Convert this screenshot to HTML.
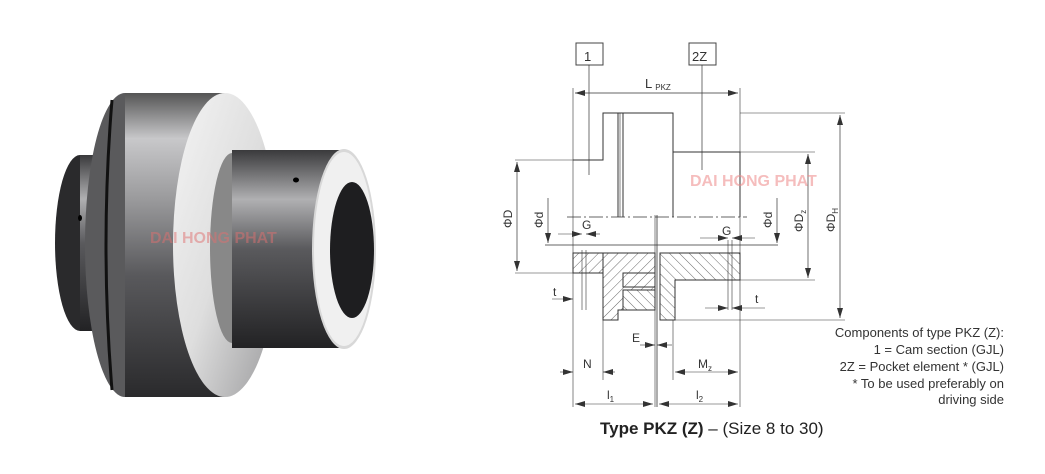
<!DOCTYPE html>
<html><head><meta charset="utf-8"><style>
body{margin:0;background:#fff;width:1045px;height:474px;overflow:hidden}
svg{position:absolute;left:0;top:0}
.t{font-family:"Liberation Sans",sans-serif;fill:#333}
</style></head><body>
<svg width="1045" height="474" viewBox="0 0 1045 474">
<defs>
<linearGradient id="gb" x1="0" y1="0" x2="0" y2="1">
<stop offset="0" stop-color="#555"/><stop offset="0.15" stop-color="#c8c8ca"/><stop offset="0.35" stop-color="#9a9a9c"/><stop offset="0.6" stop-color="#59595c"/><stop offset="1" stop-color="#2a2a2c"/></linearGradient>
<linearGradient id="gh" x1="0" y1="0" x2="0" y2="1">
<stop offset="0" stop-color="#3a3a3c"/><stop offset="0.25" stop-color="#b0b0b2"/><stop offset="0.5" stop-color="#5a5a5d"/><stop offset="1" stop-color="#222224"/></linearGradient>
<linearGradient id="gf" x1="0" y1="0" x2="1" y2="1">
<stop offset="0" stop-color="#f4f4f4"/><stop offset="0.5" stop-color="#dedede"/><stop offset="1" stop-color="#9a9a9c"/></linearGradient>
<pattern id="hat" width="7" height="7" patternUnits="userSpaceOnUse" patternTransform="rotate(45)"><line x1="0" y1="0" x2="0" y2="7" stroke="#444" stroke-width="0.8"/></pattern>
<pattern id="hat2" width="7" height="7" patternUnits="userSpaceOnUse" patternTransform="rotate(-45)"><line x1="0" y1="0" x2="0" y2="7" stroke="#444" stroke-width="0.8"/></pattern>
<marker id="a" viewBox="0 0 10 6" refX="10" refY="3" markerWidth="10" markerHeight="6" orient="auto-start-reverse" markerUnits="userSpaceOnUse"><path d="M0,0L10,3L0,6z" fill="#333"/></marker>
</defs>
<g>
<ellipse cx="80" cy="243" rx="25" ry="88" fill="#2a2a2c"/>
<rect x="80" y="155" width="30" height="176" fill="url(#gh)"/>
<ellipse cx="125" cy="245" rx="40" ry="152" fill="#5a5a5c"/>
<rect x="125" y="93" width="100" height="304" fill="url(#gb)"/>
<path d="M112,100 Q100,245 112,390" stroke="#111" stroke-width="3" fill="none"/>
<ellipse cx="225" cy="245" rx="52" ry="152" fill="url(#gf)"/>
<ellipse cx="232" cy="248" rx="22" ry="95" fill="#888"/>
<rect x="232" y="150" width="112" height="198" fill="url(#gh)"/>
<ellipse cx="344" cy="249" rx="32" ry="100" fill="#d8d8d8"/>
<ellipse cx="344" cy="249" rx="30" ry="97" fill="#f0f0f0"/>
<ellipse cx="352" cy="250" rx="22" ry="68" fill="#1e1e20"/>
<ellipse cx="296" cy="180" rx="3" ry="2.5" fill="#000"/>
<ellipse cx="80" cy="218" rx="2" ry="3" fill="#000"/>
</g>
<text x="150" y="243" class="t" style="fill:#e07070;opacity:.5;font-weight:bold;font-size:16px">DAI HONG PHAT</text>
<g stroke="#333" stroke-width="1" fill="none">
<rect x="576" y="43" width="27" height="22" stroke="#444"/>
<rect x="689" y="43" width="27" height="22" stroke="#444"/>
<line x1="589" y1="65" x2="589" y2="175" stroke-width="0.7"/>
<line x1="702" y1="65" x2="702" y2="170" stroke-width="0.7"/>
<line x1="573" y1="88" x2="573" y2="407" stroke-width="0.6"/>
<line x1="740" y1="88" x2="740" y2="407" stroke-width="0.6"/>
<line x1="575" y1="93" x2="738" y2="93" stroke-width="0.7" marker-start="url(#a)" marker-end="url(#a)"/>
<path d="M573,160 H603 V113 H618 V217 M623,217 V113 H673 V152 H740 V217 M673,113 V217"/>
<line x1="618" y1="113" x2="623" y2="113"/>
<line x1="620" y1="113" x2="620" y2="217" stroke-width="0.6"/>
<line x1="567" y1="217" x2="747" y2="217" stroke-dasharray="14,3,2,3" stroke-width="0.7"/>
<line x1="545" y1="245" x2="778" y2="245" stroke-width="0.7"/>
<rect x="573" y="253" width="30" height="20" fill="url(#hat)"/>
<path d="M603,253 H655 V273 H623 V287 H655 V290 H623 V310 H618 V320 H603 Z" fill="url(#hat)"/>
<rect x="623" y="273" width="32" height="14" fill="url(#hat)"/>
<rect x="623" y="290" width="32" height="20" fill="url(#hat2)"/>
<path d="M660,253 H740 V280 H675 V320 H660 Z" fill="url(#hat2)"/>
<line x1="657" y1="215" x2="657" y2="407" stroke-width="0.8"/>
<line x1="655" y1="215" x2="655" y2="407" stroke-width="0.6"/>
<line x1="573" y1="273" x2="603" y2="273"/>
<line x1="582" y1="250" x2="582" y2="310" stroke-width="0.6"/>
<line x1="586" y1="250" x2="586" y2="310" stroke-width="0.6"/>
<line x1="728" y1="240" x2="728" y2="310" stroke-width="0.6"/>
<line x1="732" y1="240" x2="732" y2="310" stroke-width="0.6"/>
<line x1="515" y1="160" x2="573" y2="160" stroke-width="0.6"/>
<line x1="515" y1="273" x2="573" y2="273" stroke-width="0.6"/>
<line x1="740" y1="113" x2="845" y2="113" stroke-width="0.6"/>
<line x1="740" y1="152" x2="815" y2="152" stroke-width="0.6"/>
<line x1="740" y1="280" x2="815" y2="280" stroke-width="0.6"/>
<line x1="675" y1="320" x2="845" y2="320" stroke-width="0.6"/>
<line x1="603" y1="320" x2="603" y2="380" stroke-width="0.6"/>
<line x1="673" y1="320" x2="673" y2="380" stroke-width="0.6"/>
<line x1="517" y1="162" x2="517" y2="271" stroke-width="0.7" marker-start="url(#a)" marker-end="url(#a)"/>
<line x1="548" y1="198" x2="548" y2="243" stroke-width="0.7" marker-end="url(#a)"/>
<line x1="777" y1="198" x2="777" y2="243" stroke-width="0.7" marker-end="url(#a)"/>
<line x1="808" y1="154" x2="808" y2="278" stroke-width="0.7" marker-start="url(#a)" marker-end="url(#a)"/>
<line x1="840" y1="115" x2="840" y2="318" stroke-width="0.7" marker-start="url(#a)" marker-end="url(#a)"/>
<line x1="558" y1="234" x2="582" y2="234" stroke-width="0.6" marker-end="url(#a)"/>
<line x1="600" y1="234" x2="586" y2="234" stroke-width="0.6" marker-end="url(#a)"/>
<line x1="700" y1="238" x2="728" y2="238" stroke-width="0.6" marker-end="url(#a)"/>
<line x1="755" y1="238" x2="732" y2="238" stroke-width="0.6" marker-end="url(#a)"/>
<line x1="552" y1="299" x2="573" y2="299" stroke-width="0.6" marker-end="url(#a)"/>
<line x1="705" y1="308" x2="728" y2="308" stroke-width="0.6" marker-end="url(#a)"/>
<line x1="765" y1="308" x2="732" y2="308" stroke-width="0.6" marker-end="url(#a)"/>
<line x1="640" y1="345" x2="655" y2="345" stroke-width="0.6" marker-end="url(#a)"/>
<line x1="672" y1="345" x2="657" y2="345" stroke-width="0.6" marker-end="url(#a)"/>
<line x1="560" y1="372" x2="573" y2="372" stroke-width="0.6" marker-end="url(#a)"/>
<line x1="615" y1="372" x2="603" y2="372" stroke-width="0.6" marker-end="url(#a)"/>
<line x1="675" y1="372" x2="738" y2="372" stroke-width="0.6" marker-start="url(#a)" marker-end="url(#a)"/>
<line x1="575" y1="404" x2="653" y2="404" stroke-width="0.6" marker-start="url(#a)" marker-end="url(#a)"/>
<line x1="659" y1="404" x2="738" y2="404" stroke-width="0.6" marker-start="url(#a)" marker-end="url(#a)"/>
</g>
<g class="t" style="font-size:13px">
<text x="584" y="61">1</text><text x="692" y="61">2Z</text>
<text x="645" y="88">L<tspan font-size="8" dx="3" dy="2">PKZ</tspan></text>
<text x="582" y="229" font-size="12">G</text><text x="722" y="235" font-size="12">G</text>
<text x="553" y="296" font-size="12">t</text><text x="755" y="303" font-size="12">t</text>
<text x="632" y="342" font-size="12">E</text>
<text x="583" y="368" font-size="12">N</text>
<text x="698" y="368" font-size="12">M<tspan font-size="8" dy="3">z</tspan></text>
<text x="607" y="399" font-size="12">l<tspan font-size="8" dy="3">1</tspan></text>
<text x="696" y="399" font-size="12">l<tspan font-size="8" dy="3">2</tspan></text>
<text transform="translate(512,228) rotate(-90)" font-size="12">ΦD</text>
<text transform="translate(543,228) rotate(-90)" font-size="12">Φd</text>
<text transform="translate(772,228) rotate(-90)" font-size="12">Φd</text>
<text transform="translate(803,232) rotate(-90)" font-size="12">ΦD<tspan font-size="8" dy="3">z</tspan></text>
<text transform="translate(835,232) rotate(-90)" font-size="12">ΦD<tspan font-size="8" dy="3">H</tspan></text>
</g>
<text x="690" y="186" class="t" style="fill:#e88;opacity:.55;font-size:16px;font-weight:bold">DAI HONG PHAT</text>
<g class="t" style="font-size:13px" text-anchor="end">
<text x="1004" y="337">Components of type PKZ (Z):</text>
<text x="1004" y="354">1 = Cam section (GJL)</text>
<text x="1004" y="371">2Z = Pocket element * (GJL)</text>
<text x="1004" y="388">* To be used preferably on</text>
<text x="1004" y="404">driving side</text>
</g>
<text x="600" y="434" class="t" style="font-size:17px;fill:#222"><tspan font-weight="bold">Type PKZ (Z)</tspan> – (Size 8 to 30)</text>
</svg>
</body></html>
